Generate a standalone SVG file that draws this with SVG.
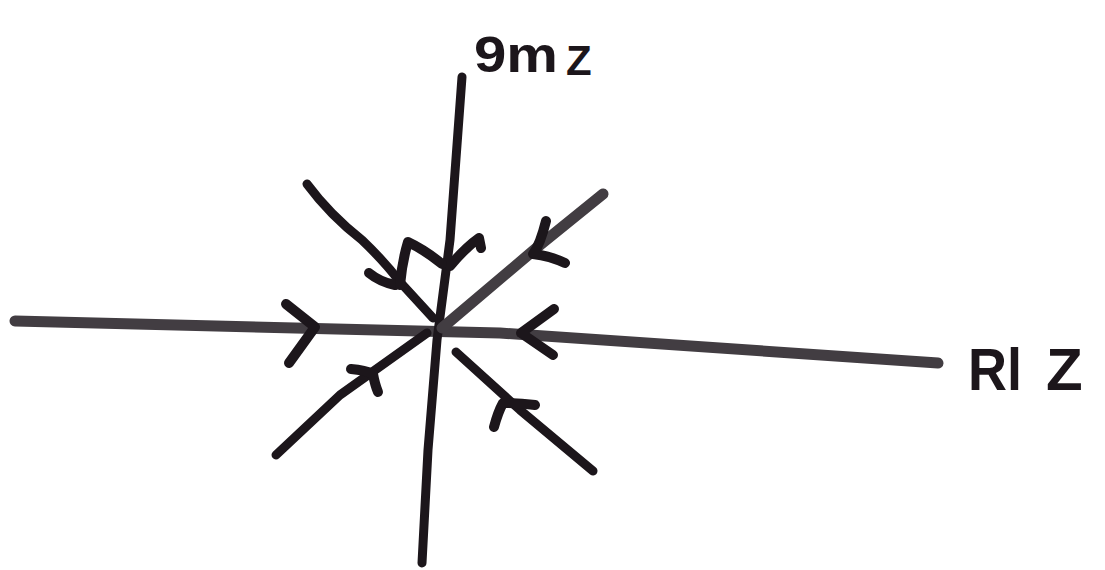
<svg xmlns="http://www.w3.org/2000/svg" width="1105" height="570" viewBox="0 0 1105 570">
<style>
.ln{fill:none;stroke:#1c161b;stroke-width:9;stroke-linecap:round;stroke-linejoin:round}
.gr{fill:none;stroke:#423d42;stroke-width:11;stroke-linecap:round;stroke-linejoin:round}
.ar{fill:none;stroke:#1c161b;stroke-width:10;stroke-linecap:round;stroke-linejoin:round}
.lbl{font-family:"Liberation Sans",Arial,sans-serif;font-weight:bold;fill:#1c161b}
</style>
<rect width="1105" height="570" fill="#ffffff"/>
<g id="axes">
<path id="real-axis" class="gr" d="M15,321 L500,333 L938,363"/>
<path id="imag-axis" class="ln" d="M462,77 L450,240 L437,340 L428,450 L422,563"/>
</g>
<g id="connectors">
<path id="diag-ne" class="gr" d="M603,194 L540,245 L442,328"/>
<path id="diag-sw" class="ln" d="M427,333 L340,395 L276,455"/>
<path id="curve-nw" class="ln" d="M307,184 Q330,215 362,240 Q385,262 400,282 L433,318"/>
<path id="line-se" class="ln" d="M456,352 L520,410 L593,471"/>
<path class="ar" d="M286,304 L315,327 L289,363"/>
<path class="ar" d="M554,309 L521,333 L553,355"/>
<path class="ar" d="M546,221 Q540,245 533,254 Q550,256 565,263"/>
<path class="ar" d="M351,369 Q365,370 373,374 Q375,385 378,392"/>
<path class="ar" d="M494,427 Q498,412 503,403 Q520,403 535,405"/>
<path class="ar" d="M450,266 Q465,248 479,238 L481,248"/>
<path class="ar" d="M369,273 Q380,282 395,285"/>
<path class="ar" d="M400,285 Q402,262 408,242 Q425,250 442,264"/>
</g>
<g id="label-im">
<text class="lbl" x="474" y="72" font-size="50" textLength="84" lengthAdjust="spacingAndGlyphs">9m</text>
<text class="lbl" x="566" y="75" font-size="42">Z</text>
</g>
<g id="label-re">
<text class="lbl" x="968" y="390" font-size="60" textLength="54" lengthAdjust="spacingAndGlyphs">Rl</text>
<text class="lbl" x="1046" y="390" font-size="60">Z</text>
</g>
</svg>
